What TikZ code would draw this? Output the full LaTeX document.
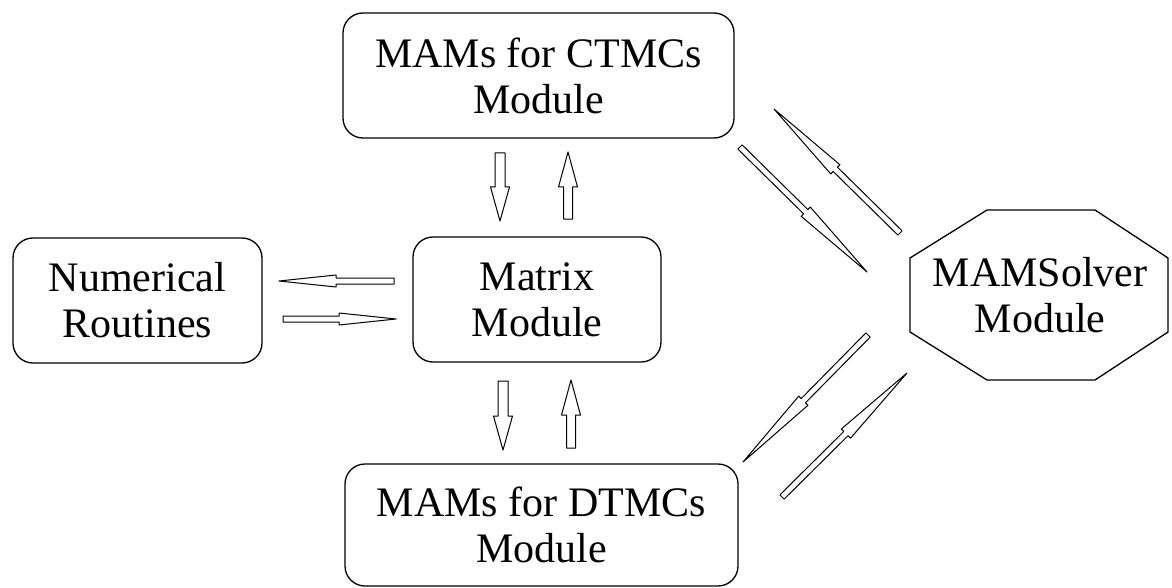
\documentclass[tikz,border=0pt]{standalone}
\usepackage{fontspec}
\setmainfont{Liberation Serif}
\usetikzlibrary{calc}
\tikzset{
  modbox/.style={draw, line width=1.3pt, rounded corners=20pt, align=center,
    font=\fontsize{42}{46}\selectfont, inner sep=0pt},
  modtext/.style={align=center, font=\fontsize{42}{46}\selectfont, inner sep=0pt},
  arrowline/.style={draw, line width=1pt, line join=round, fill=white},
}
% #1 tail, #2 tip, #3 shaft half width, #4 head half width, #5 head length
\newcommand\hollowarrow[5]{%
  \coordinate (hap) at ($(#2)!#5!(#1)$);
  \path[arrowline] ($(#1)!#3!90:(#2)$) -- ($(hap)!#3!90:(#2)$) -- ($(hap)!#4!90:(#2)$)
    -- (#2) -- ($(hap)!#4!-90:(#2)$) -- ($(hap)!#3!-90:(#2)$) -- ($(#1)!#3!-90:(#2)$) -- cycle;
}
\begin{document}
\begin{tikzpicture}[x=1pt,y=-1pt]
\useasboundingbox (0,0) rectangle (1172,588);

\node[modbox, minimum width=391pt, minimum height=125pt] (ctmc) at (538.5,75.5) {MAMs for CTMCs\\Module};
\node[modbox, minimum width=249pt, minimum height=125pt] (num) at (137.5,300.5) {Numerical\\Routines};
\node[modbox, minimum width=248pt, minimum height=125pt] (mat) at (537,299.5) {Matrix\\Module};
\node[modbox, minimum width=393pt, minimum height=122pt] (dtmc) at (541.5,525) {MAMs for DTMCs\\Module};

\node[modtext] (solver) at (1040,295) {MAMSolver\\Module};
\draw[line width=1.3pt, line join=miter]
  (987,210) -- (1095,210) -- (1168,258) -- (1168,332) -- (1095,380)
  -- (987,380) -- (910,332) -- (910,258) -- cycle;

% endpoints of arrows
\coordinate (h1t) at (394,281); \coordinate (h1h) at (279,281);
\coordinate (h2t) at (283,319); \coordinate (h2h) at (396,319);
\coordinate (v1t) at (500,153); \coordinate (v1h) at (500,221);
\coordinate (v2t) at (568,219); \coordinate (v2h) at (568,152);
\coordinate (v3t) at (503,381); \coordinate (v3h) at (503,450);
\coordinate (v4t) at (571,448); \coordinate (v4h) at (571,380);
\coordinate (dAt) at (900,233); \coordinate (dAh) at (774,109);
\coordinate (dBt) at (740,147); \coordinate (dBh) at (867,272);
\coordinate (dCt) at (868,335); \coordinate (dCh) at (743,462);
\coordinate (dDt) at (782,497); \coordinate (dDh) at (907,373);

\hollowarrow{h1t}{h1h}{3pt}{6pt}{57pt}
\hollowarrow{h2t}{h2h}{3pt}{6pt}{57pt}
\hollowarrow{v1t}{v1h}{5pt}{9.5pt}{34pt}
\hollowarrow{v2t}{v2h}{4.5pt}{9.5pt}{35pt}
\hollowarrow{v3t}{v3h}{5pt}{9.5pt}{34pt}
\hollowarrow{v4t}{v4h}{4.5pt}{9.5pt}{35pt}
\hollowarrow{dAt}{dAh}{3pt}{6.5pt}{86pt}
\hollowarrow{dBt}{dBh}{3pt}{6.5pt}{86pt}
\hollowarrow{dCt}{dCh}{3pt}{6.5pt}{86pt}
\hollowarrow{dDt}{dDh}{3pt}{6.5pt}{86pt}
\end{tikzpicture}
\end{document}
